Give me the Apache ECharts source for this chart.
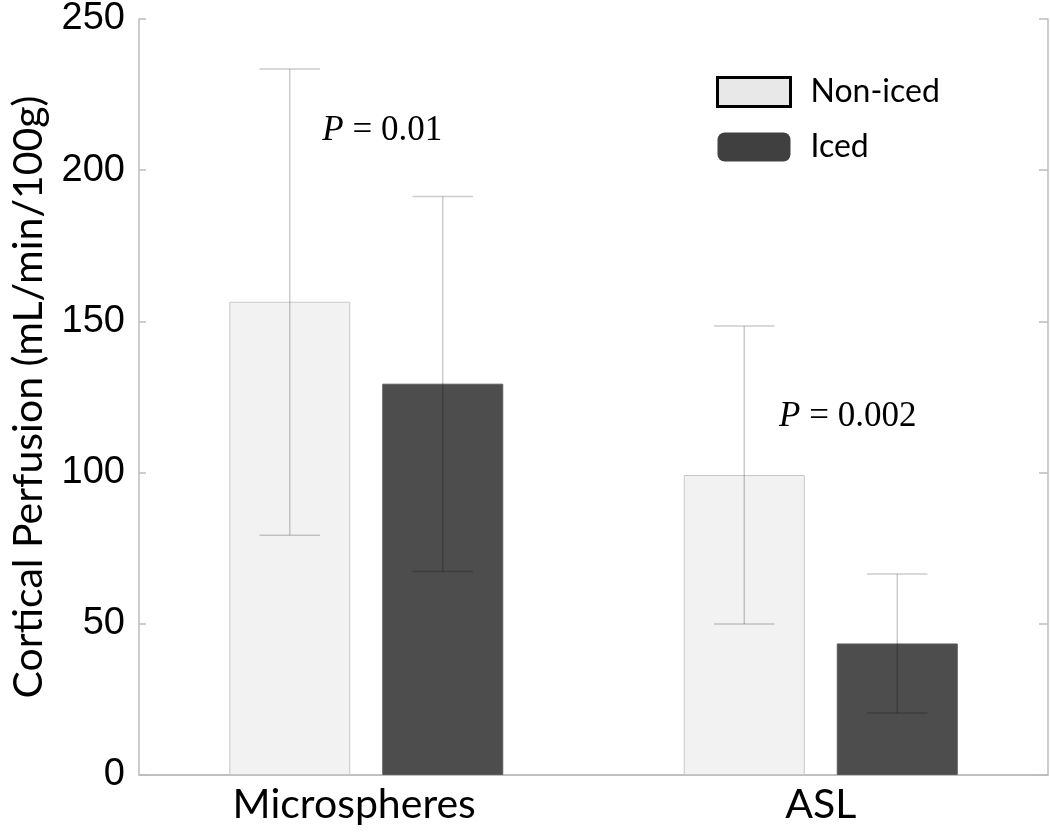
<!DOCTYPE html>
<html><head><meta charset="utf-8">
<script src="https://cdn.jsdelivr.net/npm/echarts@6/dist/echarts.min.js"></script>
<style>html,body{margin:0;padding:0;background:#fff}#c{width:1050px;height:835px}</style>
</head><body><div id="c"></div>
<script>
const categories = ['Microspheres', 'ASL'];
const nonIcedMean = [156.5, 99.2];
const nonIcedLow = [79.3, 49.9];
const nonIcedHigh = [233.5, 148.5];
const icedMean = [129.4, 43.5];
const icedLow = [67.3, 20.5];
const icedHigh = [191.3, 66.5];
const yTicks = [0, 50, 100, 150, 200, 250];
const pLabels = [{cat: 0, val: 213, text: '0.01', dx: 16}, {cat: 1, val: 118.5, text: '0.002', dx: 27}];

const BAR_W = 121, BAR_GAP = 32;
const chart = echarts.init(document.getElementById('c'));
const axisColor = '#bdbdbd';

function errData(low, high) { return low.map((l, i) => [i, l, high[i]]); }
function errRender(sign) {
  return function (params, api) {
    const c = api.value(0);
    const pLow = api.coord([c, api.value(1)]);
    const pHigh = api.coord([c, api.value(2)]);
    const x = pLow[0] + sign * (BAR_W + BAR_GAP) / 2;
    const half = BAR_W / 4;
    const st = {stroke: 'rgba(0,0,0,0.2)', lineWidth: 1.5};
    return {type: 'group', children: [
      {type: 'line', shape: {x1: x, y1: pLow[1], x2: x, y2: pHigh[1]}, style: st},
      {type: 'line', shape: {x1: x - half, y1: pLow[1], x2: x + half, y2: pLow[1]}, style: st},
      {type: 'line', shape: {x1: x - half, y1: pHigh[1], x2: x + half, y2: pHigh[1]}, style: st}
    ]};
  };
}

const option = {
  animation: false,
  grid: {left: 135, right: 2, top: 14, bottom: 60},
  legend: {
    orient: 'vertical', left: 711, top: 71, itemWidth: 73, itemHeight: 29, itemGap: 23,
    textStyle: {fontFamily: 'Lato', fontSize: 32, color: '#000', padding: [0, 0, 0, 15]},
    data: [
      {name: 'Non-iced', icon: 'rect', itemStyle: {color: '#e8e8e8', borderColor: '#000', borderWidth: 3}},
      {name: 'Iced', icon: 'roundRect', itemStyle: {color: '#404040', borderWidth: 0}}
    ]
  },
  xAxis: [
    {type: 'category', data: categories, position: 'bottom',
     axisLine: {lineStyle: {color: axisColor, width: 1.5}},
     axisTick: {inside: true, length: 9, lineStyle: {color: axisColor, width: 1.5}},
     axisLabel: {fontFamily: 'Lato', fontSize: 41, color: '#000', margin: 9,
       formatter: (v, i) => i === 0 ? '{a|' + v + '}' : v,
       rich: {a: {fontFamily: 'Lato', fontSize: 41, color: '#000', padding: [0, 24, 0, 0]}}}},
    {type: 'category', data: categories, position: 'top',
     axisLine: {lineStyle: {color: axisColor, width: 1.5}},
     axisTick: {inside: true, length: 9, lineStyle: {color: axisColor, width: 1.5}},
     axisLabel: {show: false}}
  ],
  yAxis: [
    {type: 'value', min: 0, max: 250, interval: 50, position: 'left',
     name: 'Cortical Perfusion (mL/min/100g)', nameLocation: 'middle', nameGap: 90,
     nameTextStyle: {fontFamily: 'Lato', fontSize: 41, color: '#000'},
     splitLine: {show: false},
     axisLine: {show: true, lineStyle: {color: axisColor, width: 1.5}},
     axisTick: {show: true, inside: true, length: 7, lineStyle: {color: axisColor, width: 1.5}},
     axisLabel: {fontFamily: 'Liberation Sans', fontSize: 38, color: '#000', margin: 14,
       formatter: v => yTicks.includes(v) ? String(v) : ''}},
    {type: 'value', min: 0, max: 250, interval: 50, position: 'right',
     splitLine: {show: false},
     axisLine: {show: true, lineStyle: {color: axisColor, width: 1.5}},
     axisTick: {show: true, inside: true, length: 9, lineStyle: {color: axisColor, width: 1.5}},
     axisLabel: {show: false}}
  ],
  series: [
    {name: 'Non-iced', type: 'bar', data: nonIcedMean, barWidth: BAR_W, barGap: (BAR_GAP / BAR_W * 100) + '%',
     itemStyle: {color: '#f2f2f2', borderColor: '#c8c8c8', borderWidth: 1}},
    {name: 'Iced', type: 'bar', data: icedMean, barWidth: BAR_W,
     itemStyle: {color: '#4d4d4d', borderColor: '#5a5a5a', borderWidth: 1}},
    {type: 'custom', data: errData(nonIcedLow, nonIcedHigh), renderItem: errRender(-1), z: 5, silent: true},
    {type: 'custom', data: errData(icedLow, icedHigh), renderItem: errRender(1), z: 5, silent: true}
  ]
};
chart.setOption(option);

const graphics = pLabels.map(p => {
  const pt = chart.convertToPixel({xAxisIndex: 0, yAxisIndex: 0}, [p.cat, p.val]);
  return {type: 'text', x: pt[0] + p.dx, y: pt[1], z: 10,
    style: {text: '{i|P}{n| = ' + p.text + '}', align: 'center', verticalAlign: 'middle',
      rich: {i: {fontFamily: 'Liberation Serif', fontStyle: 'italic', fontSize: 35, fill: '#000'},
             n: {fontFamily: 'Liberation Serif', fontSize: 35, fill: '#000'}}}};
});
chart.setOption({graphic: graphics});
</script></body></html>
